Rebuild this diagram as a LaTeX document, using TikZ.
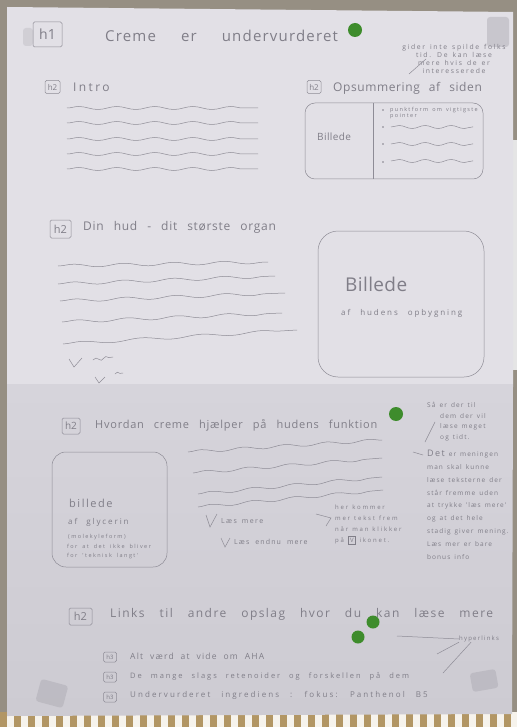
\documentclass[tikz,border=0pt]{standalone}
\usepackage{fontspec}
\newfontfamily\hand{Open Sans}
\usetikzlibrary{decorations.pathmorphing}

\definecolor{pencil}{RGB}{142,140,150}
\definecolor{ink}{RGB}{128,126,136}
\definecolor{dot}{RGB}{62,140,44}
\definecolor{paperA}{RGB}{226,224,230}
\definecolor{paperB}{RGB}{214,212,219}
\definecolor{paperC}{RGB}{205,203,210}
\definecolor{backdrop}{RGB}{150,143,131}
\definecolor{stripe}{RGB}{178,150,100}
\definecolor{tape}{RGB}{170,168,176}

\tikzset{
  hw/.style n args={4}{font={\hand\fontsize{#1}{#4}\selectfont\addfontfeature{LetterSpace=#2}\spaceskip=#3pt\relax},
    text=ink, inner sep=0pt, anchor=west},
  hbox/.style={draw=pencil, line width=0.5pt, rounded corners=1.5pt, inner sep=0pt, text=ink},
  frame/.style={draw=pencil, line width=0.5pt},
  stroke/.style={draw=pencil, line width=0.5pt},
  wave/.style={draw=pencil, line width=0.5pt, decorate,
    decoration={snake, segment length=#1, amplitude=1.5pt}},
  wave/.default=38pt,
  greendot/.style={fill=dot},
}

\begin{document}
\begin{tikzpicture}[x=1pt, y=-1pt]
\useasboundingbox (0,0) rectangle (517,727);

% backdrop, stripes under the sheet, the sheet itself
\fill[backdrop] (0,0) rectangle (517,727);
\fill[white!88!stripe] (0,712) rectangle (517,727);
\foreach \i in {0,...,37} \fill[stripe] (\i*14,712) rectangle ++(7,15);
\fill[white!80!gray] (513,140) rectangle (517,370);
\fill[paperA] (7,7) -- (513,12) -- (513,384) -- (7,384) -- cycle;
\shade[top color=paperB, bottom color=paperC] (7,384) -- (513,384) -- (512,714) -- (7,716) -- cycle;

% tape pieces
\fill[tape, opacity=0.3, rounded corners=3pt] (23,28) rectangle (33,46);
\fill[tape, opacity=0.45, rounded corners=3pt] (487,17) rectangle (509,47);
\fill[tape, opacity=0.45, rounded corners=3pt, rotate around={-15:(52,693)}] (38,682) rectangle (66,705);
\fill[tape, opacity=0.45, rounded corners=3pt, rotate around={10:(484,680)}] (471,671) rectangle (497,690);

% ---- h1 ----
\node[hbox, minimum width=29pt, minimum height=25pt, font=\hand\fontsize{14}{14}\selectfont] (h1) at (47.5,34.5) {h1};
\node[hw={15}{8}{25}{18}] (title) at (105,36) {Creme er undervurderet};
\fill[greendot] (355,30) circle (7pt);

\node[hw={6.8}{24}{5}{8}, anchor=north, align=center] (note1) at (454,44)
  {gider inte spilde folks\\tid. De kan læse\\mere hvis de er\\interesserede};
\draw[stroke] (409,74) -- (426,59);

% ---- Intro ----
\node[hbox, minimum width=15pt, minimum height=13pt, font=\hand\fontsize{8}{8}\selectfont] (h2intro) at (52.5,87) {h2};
\node[hw={12}{20}{10}{14}] (intro) at (73,87) {Intro};
\foreach \y in {108,123,139,154,169} \draw[wave] (67,\y) -- (258,\y);

% ---- Opsummering ----
\node[hbox, minimum width=14pt, minimum height=13pt, font=\hand\fontsize{8}{8}\selectfont] (h2sum) at (314,87) {h2};
\node[hw={12}{5}{9}{14}] (sumtitle) at (333,88) {Opsummering af siden};
\draw[frame, rounded corners=10pt] (305,103) rectangle (483,179);
\draw[frame] (373,103) -- (373,179);
\node[hw={10}{4}{6}{12}] (sumpic) at (317,137) {Billede};
\foreach \y in {110,127,144,162} \fill[ink] (383,\y) circle (0.9pt);
\node[hw={5.5}{24}{4}{6.5}, anchor=north west, align=left] (bullet1) at (390,107) {punktform om vigtigste\\pointer};
\foreach \y in {127,144,161} \draw[wave=26pt] (391,\y) -- (473,\y);

% ---- Din hud ----
\node[hbox, minimum width=21pt, minimum height=18pt, font=\hand\fontsize{11}{11}\selectfont] (h2hud) at (60.5,229) {h2};
\node[hw={12}{6}{10}{14}] (hud) at (83,227) {Din hud - dit største organ};
\draw[wave=50pt] (58,266) -- (268,262);
\draw[wave=50pt] (58,284) -- (275,276);
\draw[wave=50pt] (60,301) -- (285,293);
\draw[wave=50pt] (62,322) -- (282,313);
\draw[wave=60pt] (63,344) -- (297,330);
\draw[stroke] (69,359) -- (74,367) -- (82,358);
\draw[wave=10pt] (93,360) -- (113,357);
\draw[stroke] (95,377) -- (99,383) -- (105,377);
\draw[wave=8pt] (115,374) -- (123,373);

\draw[frame, rounded corners=20pt] (318,231) rectangle (484,377);
\node[hw={19}{2}{6}{22}] (bigpic) at (345,284) {Billede};
\node[hw={8}{24}{10}{10}] (bigpiccap) at (341,313) {af hudens opbygning};

% ---- Hvordan creme hjælper ----
\node[hbox, minimum width=18pt, minimum height=16pt, font=\hand\fontsize{10}{10}\selectfont] (h2creme) at (71,426) {h2};
\node[hw={11}{7}{10}{13}] (creme) at (95,425) {Hvordan creme hjælper på hudens funktion};
\fill[greendot] (396,414) circle (7pt);

\node[hw={6.5}{18}{4}{10.5}, anchor=north west, align=left] (note2) at (427,402)
  {Så er der til\\\hspace*{13pt}dem der vil\\\hspace*{13pt}læse meget\\\hspace*{13pt}og tidt.};
\draw[stroke] (425,442) -- (435,422);
\node[hw={6.5}{16}{4}{12.8}, anchor=north west, align=left] (note3) at (427,450)
  {{\fontsize{9}{9}\selectfont Det} er meningen\\man skal kunne\\læse teksterne der\\står fremme uden\\at trykke 'læs mere'\\og at det hele\\stadig giver mening.\\Læs mer er bare\\bonus info};
\draw[stroke] (413,452) -- (423,455);

\draw[frame, rounded corners=14pt] (52,452) rectangle (167,567);
\node[hw={11}{14}{4}{13}] (glypic) at (69,503) {billede};
\node[hw={8}{24}{9}{10}] (glycap) at (68,522) {af glycerin};
\node[hw={5.5}{26}{3}{6.5}] (glymol) at (68,537) {(molekyleform)};
\node[hw={5.5}{26}{5}{9}, anchor=north west, align=left] (glyfor) at (67,544) {for at det ikke bliver\\for 'teknisk langt'};

\draw[wave=42pt] (188,452) -- (382,440);
\draw[wave=42pt] (193,473) -- (382,458);
\draw[wave=42pt] (198,494) -- (382,477);
\draw[wave=42pt] (198,507) -- (383,490);

\draw[stroke] (206,515) -- (210,527) -- (217,514);
\node[hw={7}{20}{5}{8}] (lesmere) at (221,521) {Læs mere};
\draw[stroke] (221,538) -- (225,547) -- (230,538);
\node[hw={7}{16}{6}{8}] (lesendnu) at (234,542) {Læs endnu mere};
\draw[stroke] (316,514) -- (331,518) -- (326,526);
\node[hw={6}{30}{4}{10.8}, anchor=north west, align=left] (note4) at (335,505)
  {her kommer\\mer tekst frem\\når man klikker\\på {\fboxsep=1.5pt\fboxrule=0.5pt\fbox{V}} ikonet.};

% ---- Links ----
\node[hbox, minimum width=23pt, minimum height=17pt, font=\hand\fontsize{11}{11}\selectfont] (h2links) at (80.5,616.5) {h2};
\node[hw={12}{12}{15}{14}] (links) at (110,614) {Links til andre opslag hvor du kan læse mere};
\fill[greendot] (373,622) circle (6.5pt);
\fill[greendot] (358,637) circle (6.5pt);

\node[hbox, minimum width=13pt, minimum height=10pt, font=\hand\fontsize{6}{6}\selectfont] (h3a) at (110,657) {h3};
\node[hbox, minimum width=13pt, minimum height=10pt, font=\hand\fontsize{6}{6}\selectfont] (h3b) at (110,677) {h3};
\node[hbox, minimum width=13pt, minimum height=10pt, font=\hand\fontsize{6}{6}\selectfont] (h3c) at (110,697) {h3};
\node[hw={8.5}{14}{7}{10}] (linka) at (130,656) {Alt værd at vide om AHA};
\node[hw={7.5}{26}{9}{9}] (linkb) at (130,676) {De mange slags retenoider og forskellen på dem};
\node[hw={8}{26}{11}{9}] (linkc) at (130,695) {Undervurderet ingrediens : fokus: Panthenol B5};

\node[hw={6}{20}{3}{7}] (hyper) at (459,639) {hyperlinks};
\draw[stroke] (397,636) -- (hyper.west);
\draw[stroke] (437,654) -- (hyper.south west);
\draw[stroke] (443,673) -- ([xshift=-8pt]hyper.south);
\end{tikzpicture}
\end{document}
